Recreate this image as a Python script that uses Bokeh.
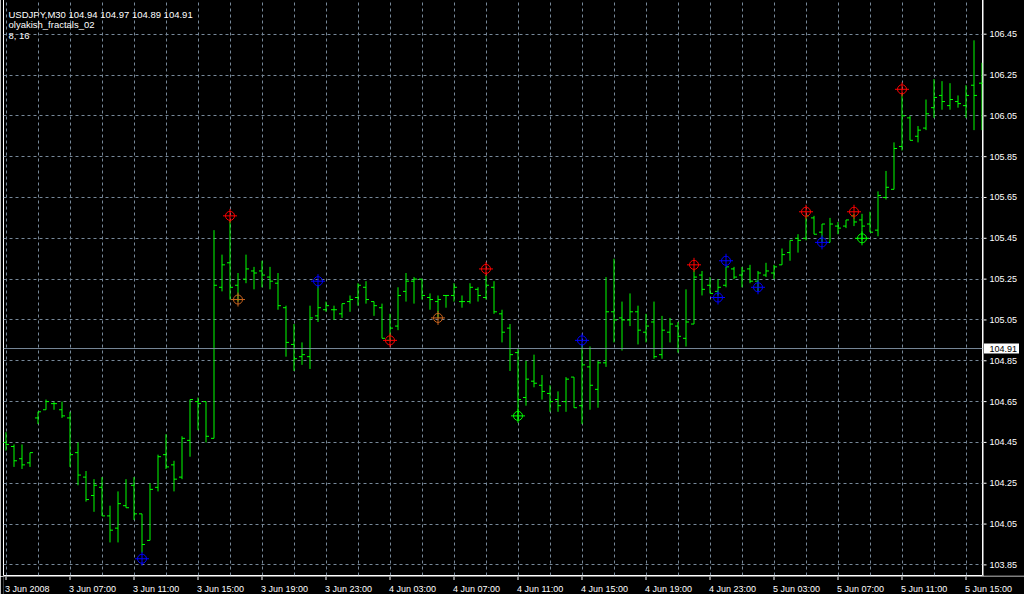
from bokeh.plotting import figure
from bokeh.layouts import column, row
from bokeh.models import FixedTicker, Range1d, Span, Label, ColumnDataSource, Grid
from bokeh.core.properties import value
from bokeh.embed import file_html
from bokeh.resources import INLINE

# ---------------- data (USDJPY, M30, bar index 0 = 3 Jun 2008 03:00) ----------------
open_ = [104.45, 104.43, 104.37, 104.35, 104.57, 104.61, 104.64, 104.61, 104.57, 104.40,
         104.28, 104.19, 104.23, 104.09, 104.03, 104.14, 104.24, 104.10, 103.97, 104.23,
         104.39, 104.34, 104.28, 104.46, 104.65, 104.65, 104.47, 105.21, 105.33, 105.22,
         105.25, 105.29, 105.29, 105.26, 105.23, 105.11, 104.93, 104.87, 104.87, 105.07,
         105.10, 105.10, 105.08, 105.14, 105.16, 105.21, 105.14, 105.11, 104.95, 105.02,
         105.19, 105.24, 105.25, 105.16, 105.14, 105.17, 105.17, 105.14, 105.14, 105.20,
         105.16, 105.21, 105.08, 105.01, 104.89, 104.67, 104.75, 104.73, 104.69, 104.66,
         104.65, 104.77, 104.63, 104.82, 104.71, 104.84, 105.09, 105.06, 105.05, 105.09,
         104.99, 105.04, 104.88, 104.99, 105.02, 104.96, 105.03, 105.27, 105.22, 105.19,
         105.22, 105.30, 105.27, 105.30, 105.24, 105.27, 105.28, 105.32, 105.38, 105.45,
         105.45, 105.55, 105.48, 105.43, 105.51, 105.51, 105.56, 105.54, 105.52, 105.49,
         105.65, 105.69, 105.90, 106.04, 105.95, 105.99, 106.09, 106.15, 106.10, 106.12,
         106.10, 106.20, 106.21]
high = [104.50, 104.44, 104.44, 104.40, 104.60, 104.66, 104.65, 104.65, 104.60, 104.45,
        104.31, 104.27, 104.28, 104.14, 104.21, 104.27, 104.28, 104.10, 104.25, 104.39,
        104.49, 104.36, 104.48, 104.66, 104.67, 104.65, 105.49, 105.37, 105.54, 105.28,
        105.37, 105.31, 105.34, 105.31, 105.28, 105.12, 105.03, 104.94, 105.12, 105.22,
        105.14, 105.12, 105.13, 105.17, 105.23, 105.24, 105.14, 105.13, 105.08, 105.21,
        105.28, 105.26, 105.25, 105.18, 105.17, 105.17, 105.23, 105.17, 105.23, 105.21,
        105.27, 105.24, 105.10, 105.03, 104.91, 104.85, 104.88, 104.78, 104.73, 104.70,
        104.77, 104.77, 104.93, 104.92, 104.85, 105.26, 105.35, 105.14, 105.18, 105.12,
        105.08, 105.14, 105.07, 105.06, 105.04, 105.20, 105.30, 105.29, 105.26, 105.25,
        105.31, 105.31, 105.31, 105.32, 105.29, 105.33, 105.32, 105.40, 105.44, 105.47,
        105.56, 105.56, 105.52, 105.55, 105.53, 105.54, 105.57, 105.57, 105.58, 105.68,
        105.78, 105.92, 106.16, 106.05, 106.00, 106.13, 106.23, 106.22, 106.21, 106.15,
        106.20, 106.42, 106.31]
low = [104.41, 104.33, 104.32, 104.33, 104.54, 104.61, 104.61, 104.57, 104.33, 104.24,
       104.16, 104.11, 104.09, 103.96, 103.96, 104.13, 104.07, 103.91, 103.97, 104.21,
       104.32, 104.21, 104.27, 104.38, 104.51, 104.45, 104.47, 105.19, 105.15, 105.14,
       105.23, 105.20, 105.21, 105.20, 105.10, 104.87, 104.80, 104.83, 104.81, 105.04,
       105.09, 105.05, 105.06, 105.09, 105.12, 105.13, 105.07, 104.96, 104.95, 105.00,
       105.14, 105.13, 105.15, 105.10, 105.06, 105.11, 105.14, 105.11, 105.13, 105.14,
       105.15, 105.08, 104.94, 104.80, 104.56, 104.63, 104.72, 104.66, 104.60, 104.60,
       104.60, 104.62, 104.54, 104.61, 104.62, 104.82, 104.94, 104.90, 105.02, 104.93,
       104.94, 104.86, 104.86, 104.94, 104.89, 104.92, 105.03, 105.17, 105.18, 105.17,
       105.21, 105.25, 105.21, 105.23, 105.19, 105.26, 105.25, 105.32, 105.34, 105.38,
       105.44, 105.47, 105.43, 105.43, 105.47, 105.50, 105.51, 105.44, 105.48, 105.46,
       105.64, 105.69, 105.88, 105.93, 105.92, 105.98, 106.04, 106.08, 106.08, 106.09,
       106.04, 105.98, 105.98]
close = [104.44, 104.36, 104.34, 104.40, 104.60, 104.65, 104.64, 104.58, 104.39, 104.29,
         104.17, 104.24, 104.09, 104.02, 104.15, 104.13, 104.10, 103.95, 104.22, 104.38,
         104.33, 104.27, 104.47, 104.66, 104.64, 104.48, 105.22, 105.32, 105.21, 105.15,
         105.30, 105.28, 105.27, 105.24, 105.12, 104.94, 104.86, 104.88, 105.06, 105.11,
         105.12, 105.10, 105.13, 105.15, 105.22, 105.15, 105.12, 104.96, 105.01, 105.17,
         105.24, 105.25, 105.17, 105.15, 105.15, 105.17, 105.21, 105.14, 105.21, 105.17,
         105.22, 105.09, 104.99, 104.88, 104.66, 104.76, 104.74, 104.70, 104.65, 104.63,
         104.76, 104.62, 104.83, 104.73, 104.84, 105.09, 105.05, 105.05, 105.09, 105.00,
         105.02, 104.87, 105.00, 105.03, 104.97, 105.04, 105.26, 105.20, 105.18, 105.21,
         105.31, 105.26, 105.29, 105.24, 105.28, 105.29, 105.31, 105.37, 105.44, 105.44,
         105.56, 105.47, 105.52, 105.52, 105.50, 105.54, 105.53, 105.51, 105.48, 105.66,
         105.70, 105.89, 106.05, 105.93, 105.98, 106.06, 106.14, 106.12, 106.13, 106.11,
         106.15, 106.15, 106.21]

# fractal marks (bar index, price)
red_idx = [28, 48, 60, 86, 100, 106, 112]
red_price = [105.56, 104.95, 105.30, 105.32, 105.58, 105.58, 106.18]
blue_idx = [17, 39, 72, 89, 90, 94, 102]
blue_price = [103.88, 105.24, 104.95, 105.16, 105.34, 105.21, 105.43]
orange_idx = [29, 54]
orange_price = [105.15, 105.06]
green_idx = [64, 107]
green_price = [104.58, 105.45]

xtick_idx = [0, 8, 16, 24, 32, 40, 48, 56, 64, 72, 80, 88, 96, 104, 112, 120]
xtick_labels = ["3 Jun 2008", "3 Jun 07:00", "3 Jun 11:00", "3 Jun 15:00", "3 Jun 19:00",
                "3 Jun 23:00", "4 Jun 03:00", "4 Jun 07:00", "4 Jun 11:00", "4 Jun 15:00",
                "4 Jun 19:00", "4 Jun 23:00", "5 Jun 03:00", "5 Jun 07:00", "5 Jun 11:00",
                "5 Jun 15:00"]
ytick_values = [103.85, 104.05, 104.25, 104.45, 104.65, 104.85, 105.05, 105.25,
                105.45, 105.65, 105.85, 106.05, 106.25, 106.45]
last_price = 104.91
header_lines = ["USDJPY,M30  104.94 104.97 104.89 104.91", "olyakish_fractals_02", "8, 16"]

# ---------------- styling ----------------
FONT = "Liberation Sans"
FSIZE = "9px"
HSIZE = "9.5px"
GRID = "#778899"
BAR = "#00ff00"
BAR_PX = 8.0                      # pixels per bar
X0 = -0.3125                      # bar-index at the left edge of the chart frame
X1 = 122.0625                     # bar-index at the right edge of the chart frame
Y0, Y1 = 103.798, 106.620         # price range of the chart frame
FRAME_H = 576                     # frame height (top pixel row hidden above the page)

n = len(open_)
idx = list(range(n))
src = ColumnDataSource(dict(
    idx=idx, open=open_, high=high, low=low, close=close,
    left=[i - 3 / BAR_PX for i in idx], right=[i + 3 / BAR_PX for i in idx]))

yr = Range1d(Y0, Y1)

# ---------------- main chart ----------------
p = figure(width=983, height=FRAME_H + 1, output_backend="svg", toolbar_location=None,
           x_range=Range1d(X0, X1), y_range=yr,
           x_axis_location=None, y_axis_location=None,
           min_border_left=3, min_border_top=0, min_border_right=1, min_border_bottom=1,
           background_fill_color="black", border_fill_color="black",
           outline_line_color="white", outline_line_width=1)
p.grid.visible = False
p.add_layout(Grid(dimension=0, ticker=FixedTicker(ticks=list(range(0, n, 4))),
                  grid_line_color=GRID, grid_line_dash="3 3", grid_line_width=1))
p.add_layout(Grid(dimension=1, ticker=FixedTicker(ticks=ytick_values),
                  grid_line_color=GRID, grid_line_dash="3 3", grid_line_width=1))

# current price line
p.add_layout(Span(location=last_price, dimension="width", line_color=GRID, line_width=1))

# OHLC bars
p.segment(x0="idx", y0="low", x1="idx", y1="high", source=src, line_color=BAR, line_width=1)
p.segment(x0="left", y0="open", x1="idx", y1="open", source=src, line_color=BAR, line_width=1)
p.segment(x0="idx", y0="close", x1="right", y1="close", source=src, line_color=BAR, line_width=1)

# fractal marks
for fi, fp, col in ((red_idx, red_price, "#ff0000"), (blue_idx, blue_price, "#0000ff"),
                    (orange_idx, orange_price, "#c8641e"), (green_idx, green_price, "#00ff00")):
    p.scatter(x=fi, y=fp, marker="circle", size=9, fill_color=None, line_color=col, line_width=1)
    p.scatter(x=fi, y=fp, marker="cross", size=14, line_color=col, line_width=1)

# header texts
for k, t in enumerate(header_lines):
    p.add_layout(Label(x=X0, y=Y1, x_offset=5, y_offset=-(14.5 + 10.5 * k), text=t,
                       text_align="left", text_baseline="alphabetic", text_color="white",
                       text_font=FONT, text_font_size=HSIZE))

# ---------------- price scale (right) ----------------
r = figure(width=41, height=FRAME_H + 1, output_backend="svg", toolbar_location=None,
           x_range=Range1d(0, 41), y_range=yr,
           x_axis_location=None, y_axis_location=None,
           min_border_left=0, min_border_top=0, min_border_right=0, min_border_bottom=1,
           background_fill_color="black", border_fill_color="black", outline_line_color=None)
r.grid.visible = False
r.segment(x0=[0] * len(ytick_values), y0=ytick_values, x1=[3] * len(ytick_values),
          y1=ytick_values, line_color="white", line_width=1)
r.text(x=[6] * len(ytick_values), y=ytick_values, text=["%.2f" % v for v in ytick_values],
       text_align="left", text_baseline="middle", text_color="white",
       text_font=value(FONT), text_font_size=FSIZE)
r.rect(x=[18], y=[last_price], width=[35], height=[10], height_units="screen",
       fill_color="white", line_color=None)
r.text(x=[6], y=[last_price], text=["%.2f" % last_price], text_align="left",
       text_baseline="middle", text_color="black", text_font=value(FONT), text_font_size=FSIZE)

# ---------------- time scale (bottom) ----------------
b = figure(width=1024, height=18, output_backend="svg", toolbar_location=None,
           x_range=Range1d(X0, X0 + 1021 / BAR_PX), y_range=Range1d(0, 18),
           x_axis_location=None, y_axis_location=None,
           min_border_left=3, min_border_top=0, min_border_right=0, min_border_bottom=0,
           background_fill_color="black", border_fill_color="black", outline_line_color=None)
b.grid.visible = False
b.segment(x0=xtick_idx, y0=[18] * len(xtick_idx), x1=xtick_idx, y1=[14.5] * len(xtick_idx),
          line_color="white", line_width=1)
b.text(x=xtick_idx, y=[5.5] * len(xtick_idx), text=xtick_labels, x_offset=-1,
       text_align="left", text_baseline="alphabetic", text_color="white",
       text_font=value(FONT), text_font_size=FSIZE)

top = row(p, r, spacing=0, margin=(-1, 0, 0, 0))
layout = column(top, b, spacing=0)
open("out.html", "w").write(file_html(layout, INLINE))
